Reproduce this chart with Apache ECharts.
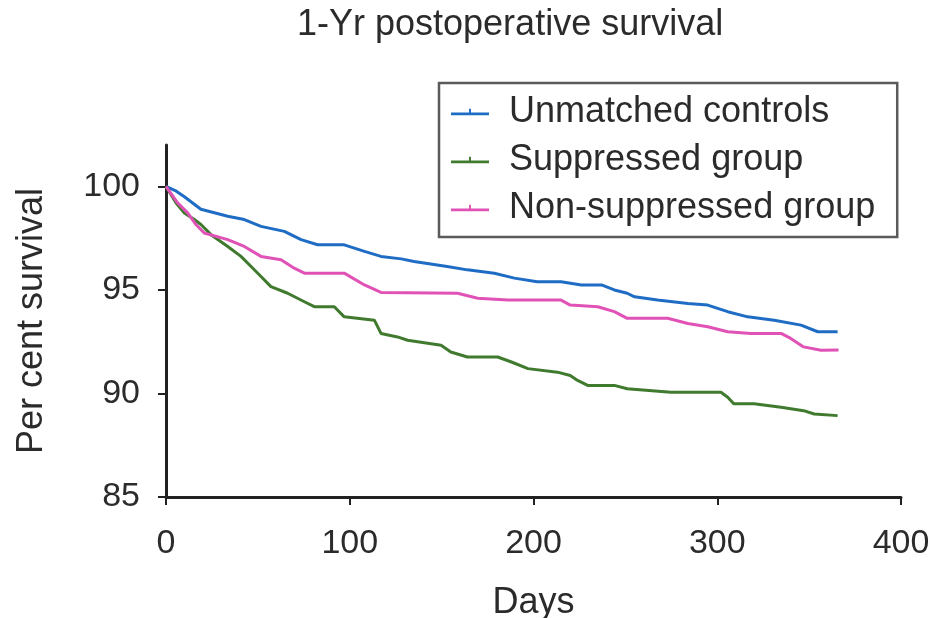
<!DOCTYPE html>
<html>
<head>
<meta charset="utf-8">
<title>1-Yr postoperative survival</title>
<script src="https://cdn.jsdelivr.net/npm/echarts@6/dist/echarts.min.js"></script>
<style>
  html, body { margin: 0; padding: 0; background: #fff; }
  #chart { width: 933px; height: 618px; }
</style>
</head>
<body>
<div id="chart"></div>
<script>
// Kaplan-Meier style survival estimates: [day, per cent surviving]
var unmatchedControls = [
  [0, 100], [5, 99.8], [10, 99.5], [19, 98.9], [33.6, 98.56], [42.6, 98.4],
  [51.7, 98.07], [64.4, 97.83], [73.5, 97.43], [82.5, 97.18], [97, 97.18],
  [108, 96.86], [117, 96.62], [128, 96.5], [135, 96.37], [153, 96.13],
  [164, 95.97], [178.7, 95.81], [189.6, 95.57], [202, 95.4], [215, 95.4],
  [226, 95.24], [237, 95.24], [244, 95.0], [251, 94.84], [255, 94.67],
  [267.5, 94.51], [284, 94.35], [294.8, 94.27], [305.7, 93.95], [316.6, 93.7],
  [331, 93.54], [345.6, 93.3], [354.7, 92.98], [365.5, 92.98]
];

var suppressedGroup = [
  [0, 100], [5.4, 99.21], [10, 98.72], [15.4, 98.4], [19, 98.16], [24.5, 97.67],
  [33.6, 97.1], [40.8, 96.62], [46.3, 96.13], [51.7, 95.65], [57.1, 95.16],
  [66.2, 94.84], [75.3, 94.43], [80.7, 94.19], [91.6, 94.19], [97, 93.7],
  [113.4, 93.54], [117, 92.9], [126, 92.73], [131.5, 92.57], [149.7, 92.33],
  [155, 92.0], [164, 91.76], [180.5, 91.76], [188, 91.52], [197, 91.2],
  [213, 91.03], [220, 90.87], [224, 90.63], [229.5, 90.39], [244, 90.39],
  [251, 90.23], [274.7, 90.06], [302, 90.06], [305.7, 89.82], [309, 89.5],
  [320, 89.5], [334.7, 89.33], [347, 89.17], [352.8, 89.01], [365.5, 88.93]
];

var nonSuppressedGroup = [
  [0, 100], [6.3, 99.21], [11.8, 98.72], [16.3, 98.16], [20.8, 97.75],
  [33.6, 97.43], [42.6, 97.1], [51.7, 96.62], [62.6, 96.46], [69.8, 96.05],
  [75.3, 95.81], [97, 95.81], [108, 95.24], [117, 94.88], [158.7, 94.84],
  [169.6, 94.6], [186, 94.51], [215, 94.51], [220, 94.27], [235, 94.19],
  [244, 93.95], [251, 93.63], [273, 93.63], [284, 93.38], [294.8, 93.22],
  [305.7, 92.98], [318.4, 92.9], [334.7, 92.9], [340, 92.66], [347, 92.25],
  [356.5, 92.09], [366, 92.1]
];

var seriesNames = ['Unmatched controls', 'Suppressed group', 'Non-suppressed group'];
var seriesColors = ['#1f6cc4', '#407a2e', '#e052b5'];

var FONT = "'Liberation Sans', Arial, Helvetica, sans-serif";
var TEXT = '#2b2b2b';
// legend key: short line with a small censoring tick in the middle
var keyIcon = 'path://M0,6 L40,6 L40,9 L0,9 Z M19,2 L21,2 L21,9 L19,9 Z';

var chart = echarts.init(document.getElementById('chart'), null, { renderer: 'canvas' });

chart.setOption({
  backgroundColor: '#ffffff',
  animation: false,
  title: {
    text: '1-Yr postoperative survival',
    left: 292,
    top: 2,
    textStyle: { fontFamily: FONT, fontSize: 36, fontWeight: 'normal', color: TEXT }
  },
  legend: {
    orient: 'vertical',
    left: 439,
    top: 83,
    padding: [11, 22, 11, 12],
    itemGap: 12,
    itemWidth: 38,
    itemHeight: 8,
    icon: keyIcon,
    borderColor: '#5a5a5a',
    borderWidth: 2.5,
    backgroundColor: '#ffffff',
    data: seriesNames,
    textStyle: { fontFamily: FONT, fontSize: 36, color: TEXT, padding: [0, 0, 0, 15] }
  },
  grid: {
    left: 166, right: 32, top: 145, bottom: 121,
    containLabel: false,
    outerBoundsMode: 'none'
  },
  xAxis: {
    type: 'value',
    min: 0, max: 400, interval: 100,
    name: 'Days',
    nameLocation: 'middle',
    nameGap: 88,
    nameTextStyle: { fontFamily: FONT, fontSize: 36, color: TEXT },
    axisLine: { show: true, onZero: false, lineStyle: { color: '#222', width: 3 } },
    axisTick: { show: true, inside: false, length: 8, lineStyle: { color: '#222', width: 2 } },
    axisLabel: { fontFamily: FONT, fontSize: 34, color: TEXT, margin: 30 },
    splitLine: { show: false }
  },
  yAxis: {
    type: 'value',
    min: 85, max: 102, interval: 5,
    name: 'Per cent survival',
    nameLocation: 'middle',
    nameGap: 116,
    nameRotate: 90,
    nameTextStyle: { fontFamily: FONT, fontSize: 36, color: TEXT },
    axisLine: { show: true, lineStyle: { color: '#222', width: 3 } },
    axisTick: { show: true, inside: false, length: 8, lineStyle: { color: '#222', width: 2 } },
    axisLabel: { fontFamily: FONT, fontSize: 34, color: TEXT, margin: 26, showMaxLabel: false },
    splitLine: { show: false }
  },
  series: [
    { name: seriesNames[0], data: unmatchedControls, color: seriesColors[0] },
    { name: seriesNames[1], data: suppressedGroup, color: seriesColors[1] },
    { name: seriesNames[2], data: nonSuppressedGroup, color: seriesColors[2] }
  ].map(function (s) {
    return {
      name: s.name,
      type: 'line',
      data: s.data,
      showSymbol: false,
      symbol: 'none',
      itemStyle: { color: s.color },
      lineStyle: { color: s.color, width: 3 },
      z: 3
    };
  })
});
</script>
</body>
</html>
